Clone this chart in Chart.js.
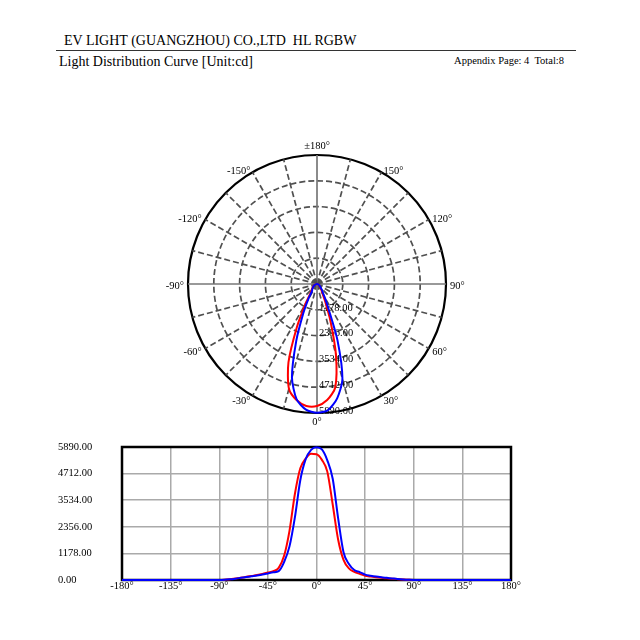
<!DOCTYPE html>
<html>
<head>
<meta charset="utf-8">
<script src="https://cdn.jsdelivr.net/npm/chart.js@4.4.0/dist/chart.umd.min.js"></script>
<style>
  html, body { margin: 0; padding: 0; background: #fff; }
  body { width: 640px; height: 640px; position: relative; overflow: hidden; font-family: "Liberation Serif", serif; }
  .txt { position: absolute; white-space: pre; color: #000; line-height: 1; }
  #company { left: 64px; top: 34px; font-size: 14px; }
  #subtitle { left: 59px; top: 55px; font-size: 14px; }
  #pageinfo { right: 76px; top: 56px; font-size: 10.5px; }
  #rule { position: absolute; left: 56px; top: 50px; width: 520px; height: 1px; background: #333; }
  canvas { position: absolute; }
  #polar { left: 148px; top: 115px; }
  #curve { left: 40px; top: 430px; }
</style>
</head>
<body>
<div class="txt" id="company">EV LIGHT (GUANGZHOU) CO.,LTD  HL RGBW</div>
<div id="rule"></div>
<div class="txt" id="subtitle">Light Distribution Curve [Unit:cd]</div>
<div class="txt" id="pageinfo">Appendix Page: 4  Total:8</div>
<canvas id="polar" width="338" height="338"></canvas>
<canvas id="curve" width="500" height="170"></canvas>
<script>
// gamma angles (deg) and luminous intensity (cd) for the two planes
const angles = [
  -180, -175, -170, -165, -160, -155, -150, -145, -140, -135, -130, -125,
  -120, -115, -110, -105, -100, -95, -90, -85, -80, -75, -70, -65,
  -60, -55, -50, -45, -40, -35, -30, -25, -20, -15, -10, -5,
  0, 5, 10, 15, 20, 25, 30, 35, 40, 45, 50, 55,
  60, 65, 70, 75, 80, 85, 90, 95, 100, 105, 110, 115,
  120, 125, 130, 135, 140, 145, 150, 155, 160, 165, 170, 175, 180
];
const blueValues = [
  0, 0, 0, 0, 0, 0, 0, 0, 0, 0, 0, 0,
  0, 0, 0, 0, 0, 0, 0, 8, 30, 60, 95, 130,
  165, 200, 240, 290, 340, 395, 795, 1489, 2774, 4418, 5350, 5760,
  5880, 5780, 5300, 4484, 2738, 1230, 707, 440, 350, 240, 190, 150,
  120, 95, 70, 45, 25, 10, 0, 0, 0, 0, 0, 0,
  0, 0, 0, 0, 0, 0, 0, 0, 0, 0, 0, 0, 0
];
const redValues = [
  0, 0, 0, 0, 0, 0, 0, 0, 0, 0, 0, 0,
  0, 0, 0, 0, 0, 0, 0, 10, 30, 65, 100, 140,
  180, 220, 270, 330, 390, 540, 1070, 2177, 3810, 4950, 5380, 5590,
  5570, 5320, 4800, 3343, 1796, 893, 514, 360, 270, 190, 150, 120,
  95, 75, 55, 38, 22, 8, 0, 0, 0, 0, 0, 0,
  0, 0, 0, 0, 0, 0, 0, 0, 0, 0, 0, 0, 0
];
const ringValues = [1178, 2356, 3534, 4712, 5890];
const angleTicks = [0, 30, 60, 90, 120, 150, 180, -150, -120, -90, -60, -30];
const xTicks = [-180, -135, -90, -45, 0, 45, 90, 135, 180];

Chart.defaults.font.family = '"Liberation Serif", serif';
Chart.defaults.font.size = 10.5;
Chart.defaults.color = '#000';

// radar goes clockwise from the bottom: 0, -5, ... -180, 175, ... 5
const radarAngles = [];
for (let i = 0; i < 72; i++) {
  let a = -5 * i;
  if (a < -180) a += 360;
  radarAngles.push(a);
}
const pick = (vals) => radarAngles.map(a => vals[angles.indexOf(a)]);

const polarText = {
  id: 'polarText',
  beforeDatasetsDraw(chart) {
    const s = chart.scales.r;
    const c = chart.ctx;
    c.save();
    c.fillStyle = '#000';
    c.font = '10.5px "Liberation Serif"';
    c.textAlign = 'left';
    c.textBaseline = 'middle';
    ringValues.forEach(v => {
      const r = s.getDistanceFromCenterForValue(v);
      c.fillText(v.toFixed(2), s.xCenter + 2, s.yCenter + r - 2);
    });
    angleTicks.forEach(a => {
      const idx = radarAngles.indexOf(a === 180 ? -180 : a);
      const p = s.getPointPosition(idx, s.drawingArea + 4);
      const dx = p.x - s.xCenter;
      const dy = p.y - s.yCenter;
      let y = p.y;
      if (dx > 5) c.textAlign = 'left';
      else if (dx < -5) c.textAlign = 'right';
      else c.textAlign = 'center';
      if (Math.abs(dx) <= 5) {
        c.textBaseline = dy < 0 ? 'bottom' : 'top';
      } else {
        c.textBaseline = 'middle';
        y += 2;
      }
      c.fillText(a === 180 ? '±180°' : a + '°', p.x, y);
    });
    c.restore();
  }
};

new Chart(document.getElementById('polar'), {
  type: 'radar',
  data: {
    labels: radarAngles.map(a => a + '°'),
    datasets: [
      { label: 'C0/180', data: pick(blueValues), borderColor: '#0000ff' },
      { label: 'C90/270', data: pick(redValues), borderColor: '#ff0000' }
    ]
  },
  options: {
    responsive: false,
    animation: false,
    layout: { padding: 40 },
    plugins: { legend: { display: false }, tooltip: { enabled: false } },
    elements: {
      point: { radius: 0 },
      line: { borderWidth: 2, fill: false, tension: 0.25 }
    },
    scales: {
      r: {
        min: 0,
        max: 5890,
        startAngle: 180,
        ticks: { display: false, stepSize: 1178 },
        pointLabels: { display: false },
        grid: {
          circular: true,
          color: ctx => ctx.index === 5 ? '#000' : '#505050',
          lineWidth: ctx => ctx.index === 5 ? 2.2 : 1.7
        },
        border: { dash: ctx => ctx.index === 5 ? [] : [6, 3] },
        angleLines: {
          color: ctx => ctx.index % 18 === 0 ? '#777' : '#505050',
          lineWidth: ctx => ctx.index % 3 === 0 ? 1.7 : 0,
          borderDash: ctx => ctx.index % 18 === 0 ? [] : [6, 3]
        }
      }
    }
  },
  plugins: [polarText]
});

const frame = {
  id: 'frame',
  beforeDatasetsDraw(chart) {
    const { ctx, chartArea: a } = chart;
    ctx.save();
    ctx.strokeStyle = '#000';
    ctx.lineWidth = 2.5;
    ctx.strokeRect(a.left, a.top, a.right - a.left, a.bottom - a.top);
    ctx.restore();
  }
};

new Chart(document.getElementById('curve'), {
  type: 'line',
  data: {
    datasets: [
      { label: 'C0/180', data: angles.map((a, i) => ({ x: a, y: blueValues[i] })), borderColor: '#0000ff' },
      { label: 'C90/270', data: angles.map((a, i) => ({ x: a, y: redValues[i] })), borderColor: '#ff0000' }
    ]
  },
  options: {
    responsive: false,
    animation: false,
    layout: { padding: { left: 18, right: 29, top: 17, bottom: 0 } },
    plugins: { legend: { display: false }, tooltip: { enabled: false } },
    elements: {
      point: { radius: 0 },
      line: { borderWidth: 2, cubicInterpolationMode: 'monotone' }
    },
    datasets: { line: { clip: false } },
    scales: {
      x: {
        type: 'linear',
        min: -180,
        max: 180,
        afterBuildTicks: s => { s.ticks = xTicks.map(v => ({ value: v })); },
        afterFit: s => { s.height = 20; },
        ticks: { callback: v => v + '°', padding: 0, maxRotation: 0, autoSkip: false },
        grid: { color: '#aaa', lineWidth: 1.5, drawTicks: false },
        border: { display: false }
      },
      y: {
        min: 0,
        max: 5890,
        afterFit: s => { s.width = 64; },
        ticks: { stepSize: 1178, callback: v => v.toFixed(2), crossAlign: 'far' },
        grid: { color: '#aaa', lineWidth: 1.5, drawTicks: false },
        border: { display: false }
      }
    }
  },
  plugins: [frame]
});
</script>
</body>
</html>
